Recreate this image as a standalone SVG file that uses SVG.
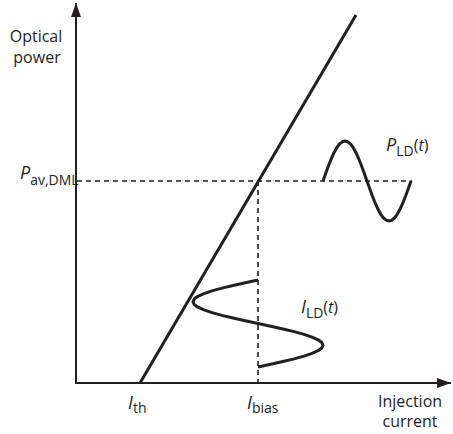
<svg xmlns="http://www.w3.org/2000/svg" width="453" height="434" viewBox="0 0 453 434">
<style>
.axis{stroke:#231f20;stroke-width:2;fill:none}
.curve{stroke:#231f20;stroke-width:3;fill:none;stroke-linejoin:round;stroke-linecap:butt}
.dash{stroke:#231f20;stroke-width:1.6;fill:none;stroke-dasharray:5 4}
text{font-family:"Open Sans","Liberation Sans",sans-serif;fill:#231f20}
.lbl{font-size:16px}
.sym{font-size:18px;font-style:italic}
.sub{font-size:14px}
.par{font-size:16px}
.t{font-size:16px;font-style:italic}
</style>
<defs>
<marker id="ah" markerWidth="14" markerHeight="10" refX="14" refY="5" orient="auto" markerUnits="userSpaceOnUse">
<path d="M0,0 L14,5 L0,10 Z" fill="#231f20"/>
</marker>
</defs>
<rect width="453" height="434" fill="#ffffff"/>
<g id="connectors">
<line class="axis" x1="76" y1="384" x2="76" y2="3" marker-end="url(#ah)"/>
<line class="axis" x1="75" y1="383" x2="451" y2="383" marker-end="url(#ah)"/>
<line class="dash" x1="77" y1="181" x2="412" y2="181"/>
<line class="dash" x1="258" y1="181" x2="258" y2="383"/>
</g>
<g id="characteristic">
<line class="curve" x1="140" y1="383" x2="356" y2="15"/>
</g>
<g id="power-signal">
<polyline class="curve" points="323,181 325.75,173.2 328.5,165.7 331.25,158.8 334,152.7 336.75,147.7 339.5,144 342.25,141.8 345,141 347.75,141.8 350.5,144 353.25,147.7 356,152.7 358.75,158.8 361.5,165.7 364.25,173.2 367,181 369.75,188.8 372.5,196.3 375.25,203.2 378,209.3 380.75,214.3 383.5,218 386.25,220.2 389,221 391.75,220.2 394.5,218 397.25,214.3 400,209.3 402.75,203.2 405.5,196.3 408.25,188.8 411,181"/>
</g>
<g id="current-signal">
<polyline class="curve" points="258,280 245.3,282.72 233.1,285.44 221.9,288.16 212,290.88 204,293.59 197.9,296.31 194.2,299.03 193,301.75 194.2,304.47 197.9,307.19 204,309.91 212,312.63 221.9,315.34 233.1,318.06 245.3,320.78 258,323.5 270.7,326.22 282.9,328.94 294.1,331.66 304,334.38 312,337.09 318.1,339.81 321.8,342.53 323,345.25 321.8,347.97 318.1,350.69 312,353.41 304,356.13 294.1,358.84 282.9,361.56 270.7,364.28 258,367"/>
</g>
<g id="label-optical-power">
<text class="lbl" x="36" y="42" text-anchor="middle">Optical</text>
<text class="lbl" x="37" y="63" text-anchor="middle">power</text>
</g>
<g id="label-pav">
<text x="20" y="179"><tspan class="sym">P</tspan><tspan class="sub" dy="6">av,DML</tspan></text>
</g>
<g id="label-ith">
<text x="128" y="409"><tspan class="sym">I</tspan><tspan class="sub" dy="4">th</tspan></text>
</g>
<g id="label-ibias">
<text x="247" y="409"><tspan class="sym">I</tspan><tspan class="sub" dy="4">bias</tspan></text>
</g>
<g id="label-injection-current">
<text class="lbl" x="410" y="407" text-anchor="middle">Injection</text>
<text class="lbl" x="410" y="427" text-anchor="middle">current</text>
</g>
<g id="label-pld">
<text x="386" y="151"><tspan class="sym">P</tspan><tspan class="sub" dy="5">LD</tspan><tspan class="par" dy="-5">(</tspan><tspan class="t">t</tspan><tspan class="par">)</tspan></text>
</g>
<g id="label-ild">
<text x="301" y="313"><tspan class="sym">I</tspan><tspan class="sub" dy="5">LD</tspan><tspan class="par" dy="-5">(</tspan><tspan class="t">t</tspan><tspan class="par">)</tspan></text>
</g>
</svg>
